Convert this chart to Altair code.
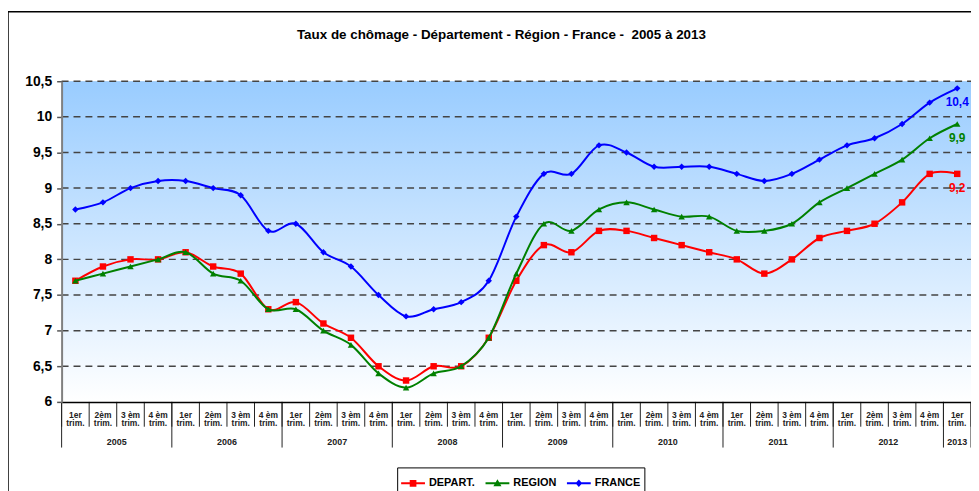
import altair as alt
import pandas as pd

# ---- data ----
quarters = ["1er\ntrim.", "2èm\ntrim.", "3 èm\ntrim.", "4 èm\ntrim."] * 8 + ["1er\ntrim."]
years = ["2005", "2006", "2007", "2008", "2009", "2010", "2011", "2012", "2013"]
year_quarters = [4, 4, 4, 4, 4, 4, 4, 4, 1]
y_ticks = [6, 6.5, 7, 7.5, 8, 8.5, 9, 9.5, 10, 10.5]

depart = [7.7, 7.9, 8.0, 8.0, 8.1, 7.9, 7.8, 7.3, 7.4, 7.1, 6.9, 6.5, 6.3, 6.5, 6.5, 6.9,
          7.7, 8.2, 8.1, 8.4, 8.4, 8.3, 8.2, 8.1, 8.0, 7.8, 8.0, 8.3, 8.4, 8.5, 8.8, 9.2, 9.2]
region = [7.7, 7.8, 7.9, 8.0, 8.1, 7.8, 7.7, 7.3, 7.3, 7.0, 6.8, 6.4, 6.2, 6.4, 6.5, 6.9,
          7.8, 8.5, 8.4, 8.7, 8.8, 8.7, 8.6, 8.6, 8.4, 8.4, 8.5, 8.8, 9.0, 9.2, 9.4, 9.7, 9.9]
france = [8.7, 8.8, 9.0, 9.1, 9.1, 9.0, 8.9, 8.4, 8.5, 8.1, 7.9, 7.5, 7.2, 7.3, 7.4, 7.7,
          8.6, 9.2, 9.2, 9.6, 9.5, 9.3, 9.3, 9.3, 9.2, 9.1, 9.2, 9.4, 9.6, 9.7, 9.9, 10.2, 10.4]

series_names = ["DEPART.", "REGION", "FRANCE"]
series_values = [depart, region, france]
series_colors = ["#FF0000", "#008000", "#0000FF"]
series_shapes = ["square", "triangle-up", "diamond"]
LINE = "M-1,-0.085H1V0.085H-1Z "
legend_paths = [
    LINE + "M-0.28,-0.28H0.28V0.28H-0.28Z",
    LINE + "M0,-0.34L0.34,0.24H-0.34Z",
    LINE + "M0,-0.32L0.28,0L0,0.32L-0.28,0Z",
]

FONT = "Liberation Sans"
W, H = 916, 323
n = len(quarters)

rows = []
for name, vals in zip(series_names, series_values):
    for i, v in enumerate(vals):
        rows.append({"series": name, "pos": i + 0.5, "value": v})
df = pd.DataFrame(rows)

ends = pd.DataFrame({
    "series": series_names,
    "pos": [n - 0.5] * 3,
    "value": [v[-1] for v in series_values],
    "label": [str(v[-1]).replace(".", ",") for v in series_values],
})

qdf = pd.DataFrame({"pos": [i + 0.5 for i in range(n)], "label": quarters})
year_start = [sum(year_quarters[:k]) for k in range(len(years))]
ydf = pd.DataFrame({
    "pos": [s + q / 2 for s, q in zip(year_start, year_quarters)],
    "label": years,
})
qsep = pd.DataFrame({"pos": list(range(n + 1))})
ysep = pd.DataFrame({"pos": year_start + [n]})
gdf = pd.DataFrame({"value": y_ticks[1:]})

xscale = alt.Scale(domain=[0, n], nice=False, zero=False)
yscale = alt.Scale(domain=[6, 10.5], nice=False, zero=False)

x_axis = alt.Axis(labels=False, ticks=False, grid=False, title=None, zindex=1,
                  domainColor="#000000", domainWidth=1.5)
y_axis = alt.Axis(values=y_ticks, title=None, zindex=1, labelOverlap=False, tickCount=10,
                  labelExpr="replace(format(datum.value, '.1~f'), '.', ',')",
                  labelFont=FONT, labelFontSize=14, labelFontWeight="bold",
                  labelColor="#000000", labelPadding=5,
                  tickSize=5, tickColor="#555555", tickWidth=1.5,
                  domainColor="#808080", domainWidth=2, grid=False)
X = alt.X("pos:Q", scale=xscale, axis=x_axis)
Y = alt.Y("value:Q", scale=yscale, axis=y_axis)

frame = alt.Chart(pd.DataFrame({"a": [0]})).mark_rect(
    fill=None, stroke="#000000", strokeWidth=1.5
).encode(x=alt.value(-54), x2=alt.value(W + 20), y=alt.value(-70), y2=alt.value(H + 120))

bg = alt.Chart(pd.DataFrame({"a": [0]})).mark_rect(
    color=alt.Gradient(gradient="linear",
                       stops=[alt.GradientStop(color="#99CCFF", offset=0),
                              alt.GradientStop(color="#FFFFFF", offset=1)],
                       x1=0, x2=0, y1=0, y2=1)
).encode(x=alt.value(0), x2=alt.value(W), y=alt.value(0), y2=alt.value(H))

grid = alt.Chart(gdf).mark_rule(color="#444444", strokeWidth=1.5, strokeDash=[7, 5]).encode(
    y=Y, x=alt.value(0), x2=alt.value(W))

layers = [frame, bg, grid]

# separators under the axis
layers.append(alt.Chart(qsep).mark_rule(color="#222222", strokeWidth=1).encode(
    x=X, y=alt.value(H), y2=alt.value(H + 25)))
layers.append(alt.Chart(ysep).mark_rule(color="#222222", strokeWidth=1).encode(
    x=X, y=alt.value(H), y2=alt.value(H + 46)))
layers.append(alt.Chart(qdf).mark_text(
    font=FONT, fontSize=8.5, fontWeight="bold", color="#222222",
    lineBreak="\n", lineHeight=8.5, baseline="top", align="center"
).encode(x=X, y=alt.value(H + 9), text="label:N"))
layers.append(alt.Chart(ydf).mark_text(
    font=FONT, fontSize=9, fontWeight="bold", color="#222222",
    baseline="middle", align="center"
).encode(x=X, y=alt.value(H + 40), text="label:N"))

for name, color, shape in zip(series_names, series_colors, series_shapes):
    sub = alt.Chart(df).transform_filter(alt.datum.series == name)
    layers.append(sub.mark_line(color=color, strokeWidth=2, interpolate="cardinal").encode(
        x=X, y=Y))
    layers.append(sub.mark_point(shape=shape, filled=True, size=42, color=color, opacity=1).encode(
        x=X, y=Y))
    layers.append(alt.Chart(ends).transform_filter(alt.datum.series == name).mark_text(
        font=FONT, fontSize=12, fontWeight="bold", color=color, dy=14, align="center"
    ).encode(x=X, y=Y, text="label:N"))

legend_def = alt.Legend(
    title=None, orient="none", legendX=338, legendY=389, direction="horizontal",
    labelFont=FONT, labelFontSize=11, labelFontWeight="bold", labelColor="#000000",
    symbolSize=576, symbolStrokeWidth=0, labelOffset=4, columnPadding=10,
    strokeColor="#000000", fillColor="#FFFFFF", padding=4, symbolOpacity=1,
)
legend_layer = alt.Chart(df).transform_filter("datum.value < 0").mark_point(
    filled=True, opacity=1
).encode(
    x=X, y=Y,
    color=alt.Color("series:N", scale=alt.Scale(domain=series_names, range=series_colors),
                    legend=legend_def),
    shape=alt.Shape("series:N", scale=alt.Scale(domain=series_names, range=legend_paths),
                    legend=legend_def),
)
layers.append(legend_layer)

chart = alt.layer(*layers).properties(
    width=W, height=H,
    title=alt.TitleParams(
        "Taux de chômage - Département - Région - France -\u00a0 2005 à 2013",
        font=FONT, fontSize=13.5, fontWeight="bold", color="#000000",
        anchor="middle", frame="group", offset=-42, dx=-15, baseline="alphabetic"),
    autosize=alt.AutoSizeParams(type="none"),
    padding={"left": 54, "top": 72, "right": 0, "bottom": 88},
).configure_view(stroke=None).configure_axisY(labelOverlap=False).configure(background="#FFFFFF")

chart.save("out.html", embed_options={"renderer": "svg", "actions": False})
